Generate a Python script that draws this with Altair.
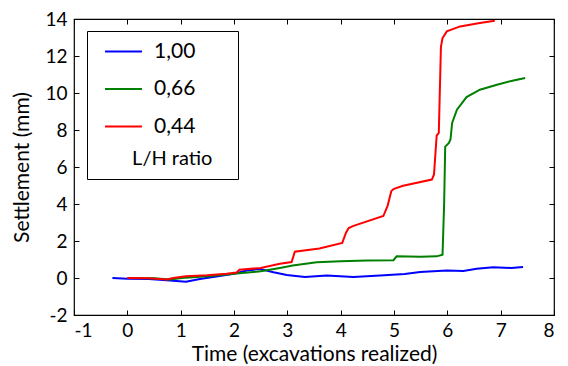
import altair as alt
import pandas as pd

# ---- data ----
blue_x = [-0.28, 0.0, 0.4, 0.8, 1.1, 1.36, 1.7, 2.0, 2.24, 2.49, 2.74, 2.99, 3.33,
          3.74, 4.24, 4.74, 5.2, 5.49, 5.99, 6.3, 6.55, 6.86, 7.2, 7.42]
blue_y = [0.0, -0.04, -0.05, -0.14, -0.2, -0.05, 0.1, 0.23, 0.41, 0.49, 0.31, 0.16, 0.06,
          0.13, 0.06, 0.13, 0.22, 0.32, 0.41, 0.38, 0.5, 0.58, 0.54, 0.59]

green_x = [0.0, 0.5, 0.8, 1.1, 1.5, 2.0, 2.5, 2.86, 3.1, 3.55, 4.0, 4.5, 4.99, 5.05,
           5.5, 5.8, 5.91, 5.94, 5.96, 6.03, 6.06, 6.09, 6.18, 6.36, 6.61, 6.93, 7.24, 7.46]
green_y = [0.0, -0.02, -0.08, 0.02, 0.1, 0.23, 0.36, 0.54, 0.67, 0.85, 0.9, 0.94, 0.96, 1.17,
           1.15, 1.17, 1.26, 4.0, 7.1, 7.3, 7.5, 8.38, 9.1, 9.78, 10.18, 10.45, 10.68, 10.81]

red_x = [0.0, 0.4, 0.74, 0.86, 1.1, 1.5, 1.86, 2.05, 2.1, 2.5, 2.86, 3.08, 3.14, 3.6,
         4.03, 4.1, 4.15, 4.24, 4.8, 4.88, 4.95, 5.0, 5.17, 5.71, 5.75, 5.8, 5.84, 5.88,
         5.91, 5.99, 6.24, 6.61, 6.89]
red_y = [0.0, -0.02, -0.08, 0.0, 0.09, 0.15, 0.23, 0.3, 0.45, 0.54, 0.77, 0.86, 1.42, 1.6,
         1.9, 2.45, 2.7, 2.82, 3.35, 3.9, 4.7, 4.82, 4.99, 5.32, 5.6, 7.7, 7.85, 12.5,
         12.97, 13.33, 13.6, 13.78, 13.9]

series_names = ["1,00", "0,66", "0,44"]
series_colors = ["#0000ff", "#008000", "#ff0000"]
x_ticks = [-1, 0, 1, 2, 3, 4, 5, 6, 7, 8]
y_ticks = [-2, 0, 2, 4, 6, 8, 10, 12, 14]
legend_title = "L/H ratio"

rows = []
for name, xs, ys in zip(series_names, [blue_x, green_x, red_x], [blue_y, green_y, red_y]):
    for i, (xv, yv) in enumerate(zip(xs, ys)):
        rows.append({"ratio": name, "t": xv, "s": yv, "i": i})
df = pd.DataFrame(rows)

FONT = "Lato"
BLANK = "\u2800"  # blank glyph that is not stripped as whitespace
NB = "\u00a0"
ZW = "\u200b"
xscale = alt.Scale(domain=[-1, 8], nice=False, zero=False)
yscale = alt.Scale(domain=[-2, 14], nice=False, zero=False)

base = alt.Chart(df)

lines = base.mark_line(strokeWidth=2).encode(
    x=alt.X("t:Q", scale=xscale,
            axis=alt.Axis(orient="bottom", values=x_ticks, title="Time (excavations realized)",
                          labelExpr="datum.value + ''",
                          offset=-5, tickSize=5, domain=False, labelPadding=6,
                          titlePadding=3, grid=False)),
    y=alt.Y("s:Q", scale=yscale,
            axis=alt.Axis(orient="left", values=y_ticks, title="Settlement (mm)",
                          labelExpr="datum.value + ''",
                          offset=-5, tickSize=5, domain=False, labelPadding=7,
                          titlePadding=12, grid=False)),
    color=alt.Color("ratio:N",
                    scale=alt.Scale(domain=series_names, range=series_colors),
                    legend=alt.Legend(orient="none", legendX=13, legendY=12,
                                      title=BLANK * 2 + NB + legend_title + NB * 3 + ZW,
                                      titleOrient="bottom",
                                      titleAnchor="start", titleFontSize=20,
                                      titleFontWeight="normal", titleColor="black",
                                      titleFont=FONT, labelFont=FONT,
                                      labelFontSize=21, labelColor="black",
                                      symbolType="M-3.08,0H3.08", symbolSize=144,
                                      symbolStrokeWidth=2, symbolOffset=16,
                                      strokeColor="black", fillColor="white",
                                      padding=10, labelOffset=20,
                                      rowPadding=15.5, titlePadding=12)),
    order="i:Q",
)

frame_axes = base.mark_line(opacity=0).encode(
    x=alt.X("t:Q", scale=xscale,
            axis=alt.Axis(orient="top", values=x_ticks, title=None, labels=False,
                          offset=-5, tickSize=5, domain=False, grid=False)),
    y=alt.Y("s:Q", scale=yscale,
            axis=alt.Axis(orient="right", values=y_ticks, title=None, labels=False,
                          offset=-5, tickSize=5, domain=False, grid=False)),
    detail="ratio:N",
    order="i:Q",
)

chart = alt.layer(lines, frame_axes).resolve_axis(x="independent", y="independent").properties(
    width=480, height=296,
    background="white",
    autosize=alt.AutoSizeParams(type="none"),
    padding={"left": 66, "top": 11, "right": 6, "bottom": 51},
).configure_view(stroke="black", strokeWidth=1.2).configure_axis(
    labelFont=FONT, titleFont=FONT, labelFontSize=19, titleFontSize=21,
    titleFontWeight="normal", labelColor="black", titleColor="black",
    tickColor="black", tickWidth=1,
)

chart.save("out.html", embed_options={"renderer": "svg", "actions": False})
